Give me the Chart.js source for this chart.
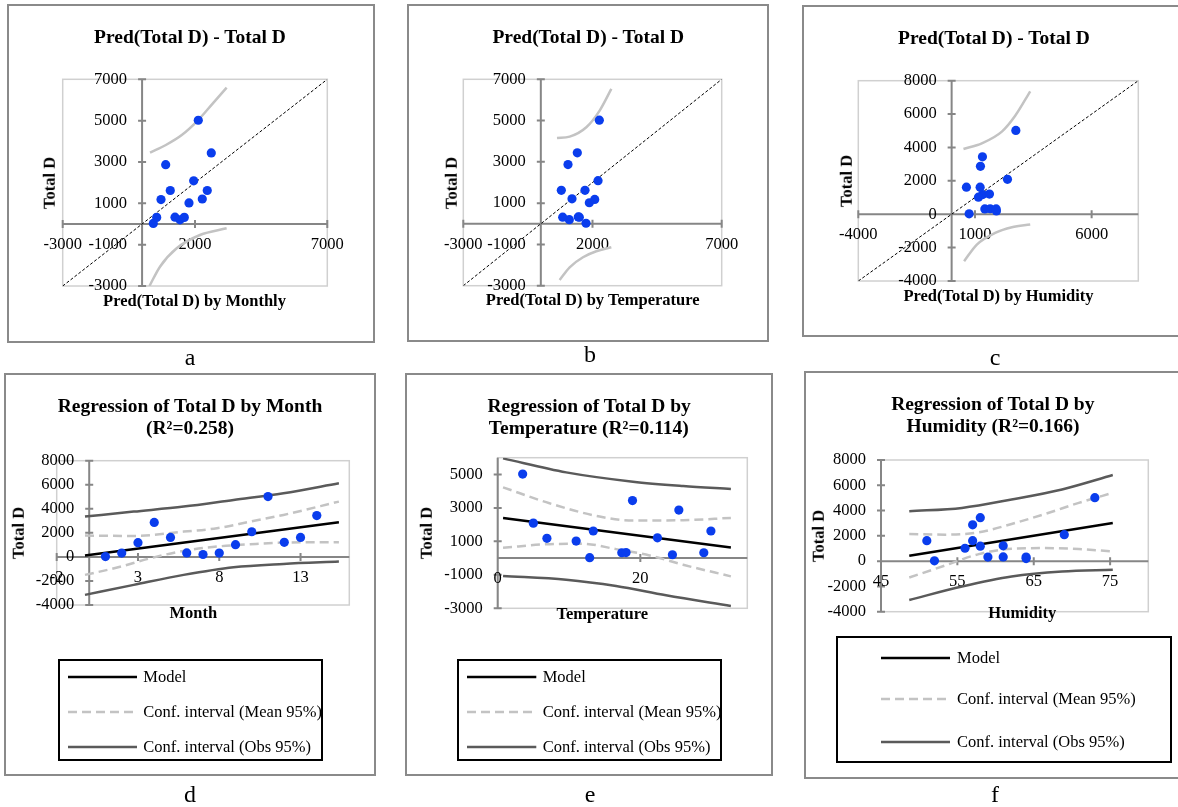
<!DOCTYPE html>
<html>
<head>
<meta charset="utf-8">
<script src="https://cdn.jsdelivr.net/npm/chart.js@4.4.1/dist/chart.umd.min.js"></script>
<style>
  body { margin: 0; width: 1178px; height: 807px; overflow: hidden; position: relative; background: #fff; font-family: "Liberation Serif", serif; color: #000; }
  .box { position: absolute; border: 2px solid #8a8a8a; box-sizing: border-box; }
  .lg { position: absolute; border: 2.5px solid #000; box-sizing: border-box; }
  canvas { position: absolute; }
  .txt { position: absolute; transform: translate(-50%, -50%); white-space: nowrap; line-height: 1; }
  .title { font-weight: bold; font-size: 19.5px; }
  .axt { font-weight: bold; font-size: 16.5px; }
  .vert { transform: translate(-50%, -50%) rotate(-90deg); }
  .letter { font-size: 24px; }
  .lgt { position: absolute; transform: translateY(-50%); white-space: nowrap; font-size: 16.5px; line-height: 1; }
  svg { position: absolute; overflow: visible; }
</style>
</head>
<body>
<script>
// shared observations, month 1..14
const months = [1, 2, 3, 4, 5, 6, 7, 8, 9, 10, 11, 12, 13, 14];
const totalD = [25, 320, 1180, 2870, 1620, 330, 200, 320, 1020, 2090, 5020, 1210, 1620, 3440];
const temperature = [12.9, 17.4, 6.9, 25.4, 29.9, 18.0, 24.5, 28.9, 11.0, 5.0, 3.5, 22.4, 13.4, 18.9];
const humidity = [52, 59, 58, 57, 51, 61, 64, 64, 56, 69, 73, 61, 57, 58];

// predicted Total D from each model
const predByMonth = [424, 552, 715, 892, 1066, 1244, 1433, 1595, 1773, 1950, 2124, 2275, 2464, 2615];
const predByTemp = [1749, 1490, 2086, 1052, 793, 1450, 1103, 847, 1877, 2214, 2264, 1207, 1710, 1412];
const predByHum = [750, 1423, 1330, 1235, 634, 1651, 1920, 1908, 1149, 2393, 2752, 1621, 1222, 1321];

// prediction bands on the Pred - Total D plots
const bandAUp = [[300, 3450], [900, 3820], [1500, 4300], [2100, 5000], [2650, 5800], [3196, 6600]];
const bandALo = [[278, -3000], [677, -2065], [1307, -1177], [2189, -532], [3196, -210]];
const bandBUp = [[626, 4160], [1116, 4225], [1761, 4677], [2277, 5485], [2729, 6535]];
const bandBLo = [[729, -2722], [1116, -2108], [1632, -1623], [2148, -1333], [2729, -1139]];
const bandCUp = [[507, 3912], [1293, 4250], [2152, 4950], [2724, 5900], [3368, 7365]];
const bandCLo = [[535, -2814], [1080, -1816], [1867, -1118], [2582, -778], [3368, -619]];
const diagAB = [[-3000, -3000], [7000, 7000]];
const diagC = [[-4000, -4000], [8000, 8000]];

// regression lines and confidence intervals
const monthModel = [[-0.26, 110], [15.36, 2880]];
const monthObsUp = [[-0.26, 3352], [2.74, 3767], [5.81, 4183], [8.88, 4737], [11.95, 5291], [15.36, 6122]];
const monthMeanUp = [[-0.26, 1773], [2.74, 1745], [5.81, 2105], [7.86, 2382], [9.9, 2936], [11.95, 3490], [15.36, 4598]];
const monthMeanLo = [[-0.26, -1496], [1.72, -886], [3.77, -111], [5.81, 499], [7.86, 859], [9.9, 1053], [11.95, 1191], [15.36, 1219]];
const monthObsLo = [[-0.26, -3158], [2.74, -2327], [5.81, -1496], [8.88, -859], [11.95, -582], [15.36, -388]];

const tempModel = [[0.75, 2403], [32.7, 636]];
const tempObsUp = [[0.75, 5958], [9.6, 5124], [18.97, 4568], [26, 4310], [32.7, 4131]];
const tempMeanUp = [[0.75, 4230], [7.26, 3277], [14.3, 2483], [18.97, 2244], [26, 2264], [32.7, 2403]];
const tempMeanLo = [[0.75, 616], [7.26, 834], [11.9, 854], [16.6, 536], [21.3, 159], [26, -397], [32.7, -1092]];
const tempObsLo = [[0.75, -1072], [9.6, -1291], [16.6, -1668], [23.6, -2224], [32.7, -2860]];

const humModel = [[48.7, 424], [75.35, 3020]];
const humObsUp = [[48.7, 3947], [55.6, 4212], [62.1, 4874], [68.7, 5669], [75.35, 6808]];
const humMeanUp = [[48.7, 2146], [53.4, 2093], [57.8, 2278], [62.1, 2940], [66.5, 3735], [70.9, 4609], [75.35, 5404]];
const humMeanLo = [[48.7, -1298], [53.4, -344], [57.8, 556], [62.1, 980], [66.5, 1033], [70.9, 954], [75.35, 768]];
const humObsLo = [[48.7, -3073], [55.6, -2013], [62.1, -1219], [68.7, -821], [75.35, -689]];

// tick labels
const ticksAB = [-3000, -1000, 1000, 3000, 5000, 7000];
const ticksABx = [-3000, 2000, 7000];
const ticksCx = [-4000, 1000, 6000];
const ticks8000 = [-4000, -2000, 0, 2000, 4000, 6000, 8000];
const ticksMonth = [-2, 3, 8, 13];
const ticksTempY = [-3000, -1000, 1000, 3000, 5000];
const ticksTemp = [0, 20];
const ticksHum = [45, 55, 65, 75];

const BLUE = '#0a3ded';
const LIGHT = '#c3c3c3';
const DARK = '#5a5a5a';

// Excel-like axes crossing inside the plot area
const excelAxes = {
  id: 'excelAxes',
  beforeDatasetsDraw(chart, args, o) {
    const { ctx, chartArea: a, scales: { x, y } } = chart;
    ctx.save();
    ctx.strokeStyle = '#d0d0d0';
    ctx.lineWidth = 1.5;
    ctx.strokeRect(a.left, a.top, a.right - a.left, a.bottom - a.top);
    const ax = x.getPixelForValue(o.yAxisAt);
    const ay = y.getPixelForValue(0);
    ctx.strokeStyle = '#868686';
    ctx.lineWidth = 2;
    ctx.beginPath();
    ctx.moveTo(a.left, ay); ctx.lineTo(a.right, ay);
    ctx.moveTo(ax, a.top); ctx.lineTo(ax, a.bottom);
    o.xTicks.forEach(v => { const p = x.getPixelForValue(v); ctx.moveTo(p, ay - 4); ctx.lineTo(p, ay + 4); });
    o.yTicks.forEach(v => { const p = y.getPixelForValue(v); ctx.moveTo(ax - 4, p); ctx.lineTo(ax + 4, p); });
    ctx.stroke();
    ctx.fillStyle = '#000';
    ctx.font = '16.5px "Liberation Serif"';
    ctx.textBaseline = 'middle';
    ctx.textAlign = 'center';
    o.xTicks.forEach(v => ctx.fillText(String(v), x.getPixelForValue(v), ay + 20.5));
    ctx.textAlign = 'right';
    o.yTicks.forEach(v => ctx.fillText(String(v), ax - 15, y.getPixelForValue(v)));
    ctx.restore();
  }
};

const dots = xs => ({
  data: xs.map((x, i) => ({ x, y: totalD[i] })),
  pointRadius: 4.6, pointBackgroundColor: BLUE, pointBorderWidth: 0, showLine: false
});
const curve = (arr, color, width, dash) => ({
  data: arr.map(([x, y]) => ({ x, y })),
  showLine: true, pointRadius: 0, borderColor: color, borderWidth: width,
  borderDash: dash || [], cubicInterpolationMode: 'monotone', fill: false
});

function makeChart(canvasBox, plot, datasets, xr, yr, axes) {
  const [cx, cy, cw, ch] = canvasBox;
  const [l, t, r, b] = plot;
  const cv = document.createElement('canvas');
  cv.width = cw; cv.height = ch;
  cv.style.left = cx + 'px'; cv.style.top = cy + 'px';
  cv.style.width = cw + 'px'; cv.style.height = ch + 'px';
  document.body.appendChild(cv);
  new Chart(cv.getContext('2d'), {
    type: 'scatter',
    data: { datasets },
    options: {
      responsive: false, animation: false, devicePixelRatio: 1,
      layout: { padding: { left: l - cx, top: t - cy, right: cx + cw - r, bottom: cy + ch - b } },
      plugins: { legend: { display: false }, tooltip: { enabled: false }, excelAxes: axes },
      scales: {
        x: { type: 'linear', display: false, min: xr[0], max: xr[1] },
        y: { type: 'linear', display: false, min: yr[0], max: yr[1] }
      }
    },
    plugins: [excelAxes]
  });
}

function el(cls, text, x, y, size) {
  const d = document.createElement('div');
  d.className = cls;
  d.textContent = text;
  d.style.left = x + 'px'; d.style.top = y + 'px';
  if (size) { d.style.width = size[0] + 'px'; d.style.height = size[1] + 'px'; }
  document.body.appendChild(d);
  return d;
}

function legend(box, lineX, textX, rows) {
  el('lg', '', box[0], box[1], [box[2], box[3]]);
  const styles = [['#000', ''], [LIGHT, '9 5'], [DARK, '']];
  const names = ['Model', 'Conf. interval (Mean 95%)', 'Conf. interval (Obs 95%)'];
  rows.forEach((ry, i) => {
    const svg = document.createElementNS('http://www.w3.org/2000/svg', 'svg');
    svg.setAttribute('width', lineX[1] - lineX[0]); svg.setAttribute('height', 6);
    svg.style.left = lineX[0] + 'px'; svg.style.top = (ry - 3) + 'px';
    svg.innerHTML = `<line x1="0" y1="3" x2="${lineX[1] - lineX[0]}" y2="3" stroke="${styles[i][0]}" stroke-width="2.5" stroke-dasharray="${styles[i][1]}"/>`;
    document.body.appendChild(svg);
    el('lgt', names[i], textX, ry);
  });
}

// panel frames
[[7, 4, 368, 339], [407, 4, 362, 338], [802, 5, 390, 332],
 [4, 373, 372, 403], [405, 373, 368, 403], [804, 371, 390, 408]].forEach(b => el('box', '', b[0], b[1], [b[2], b[3]]));

// a
makeChart([0, 0, 395, 360], [62.7, 79.3, 327.3, 286], [
  dots(predByMonth),
  curve(diagAB, '#000', 1, [3, 2]),
  curve(bandAUp, LIGHT, 2.5), curve(bandALo, LIGHT, 2.5)
], [-3000, 7000], [-3000, 7000], { xTicks: ticksABx, yTicks: ticksAB, yAxisAt: 0 });

// b
makeChart([395, 0, 395, 360], [463.3, 79.3, 721.7, 285.7], [
  dots(predByTemp),
  curve(diagAB, '#000', 1, [3, 2]),
  curve(bandBUp, LIGHT, 2.5), curve(bandBLo, LIGHT, 2.5)
], [-3000, 7000], [-3000, 7000], { xTicks: ticksABx, yTicks: ticksAB, yAxisAt: 0 });

// c
makeChart([790, 0, 388, 360], [858.3, 80.7, 1138.3, 281], [
  dots(predByHum),
  curve(diagC, '#000', 1, [3, 2]),
  curve(bandCUp, LIGHT, 2.5), curve(bandCLo, LIGHT, 2.5)
], [-4000, 8000], [-4000, 8000], { xTicks: ticksCx, yTicks: ticks8000, yAxisAt: 0 });

// d
makeChart([0, 365, 395, 442], [56.7, 460.7, 349.3, 605], [
  dots(months),
  curve(monthModel, '#000', 2.5),
  curve(monthMeanUp, LIGHT, 2.5, [9, 5]), curve(monthMeanLo, LIGHT, 2.5, [9, 5]),
  curve(monthObsUp, DARK, 2.5), curve(monthObsLo, DARK, 2.5)
], [-2, 16], [-4000, 8000], { xTicks: ticksMonth, yTicks: ticks8000, yAxisAt: 0 });

// e
makeChart([395, 365, 395, 442], [497.7, 457.7, 747.3, 608.3], [
  dots(temperature),
  curve(tempModel, '#000', 2.5),
  curve(tempMeanUp, LIGHT, 2.5, [9, 5]), curve(tempMeanLo, LIGHT, 2.5, [9, 5]),
  curve(tempObsUp, DARK, 2.5), curve(tempObsLo, DARK, 2.5)
], [0, 35], [-3000, 6000], { xTicks: ticksTemp, yTicks: ticksTempY, yAxisAt: 0 });

// f
makeChart([790, 365, 388, 442], [881, 460, 1148.3, 611.7], [
  dots(humidity),
  curve(humModel, '#000', 2.5),
  curve(humMeanUp, LIGHT, 2.5, [9, 5]), curve(humMeanLo, LIGHT, 2.5, [9, 5]),
  curve(humObsUp, DARK, 2.5), curve(humObsLo, DARK, 2.5)
], [45, 80], [-4000, 8000], { xTicks: ticksHum, yTicks: ticks8000, yAxisAt: 45 });

// titles
el('txt title', 'Pred(Total D) - Total D', 190, 36.5);
el('txt title', 'Pred(Total D) - Total D', 588.3, 36.5);
el('txt title', 'Pred(Total D) - Total D', 994, 37.5);
el('txt title', 'Regression of Total D by Month', 190, 406.3);
el('txt title', '(R²=0.258)', 190, 428.3);
el('txt title', 'Regression of Total D by', 589.2, 406.3);
el('txt title', 'Temperature (R²=0.114)', 588.8, 428);
el('txt title', 'Regression of Total D by', 992.8, 404);
el('txt title', 'Humidity (R²=0.166)', 993, 425.8);

// axis titles
el('txt axt vert', 'Total D', 50.3, 182.5);
el('txt axt', 'Pred(Total D) by Monthly', 194.5, 301);
el('txt axt vert', 'Total D', 451.7, 182.5);
el('txt axt', 'Pred(Total D) by Temperature', 592.7, 300);
el('txt axt vert', 'Total D', 846.7, 181);
el('txt axt', 'Pred(Total D) by Humidity', 998.5, 295.5);
el('txt axt vert', 'Total D', 19.3, 533.3);
el('txt axt', 'Month', 193.3, 613.3);
el('txt axt vert', 'Total D', 426.7, 533.3);
el('txt axt', 'Temperature', 602.3, 614);
el('txt axt vert', 'Total D', 819, 535.8);
el('txt axt', 'Humidity', 1022.3, 613.3);

// legends
legend([57.7, 659.3, 265, 101.4], [67.7, 136.7], 143.3, [677.3, 711.7, 746.7]);
legend([456.7, 659.3, 265.6, 101.4], [466.7, 536], 542.7, [677.3, 711.7, 746.7]);
legend([836, 635.7, 335.7, 127.6], [881, 950], 957, [657.7, 699.3, 741.7]);

// panel letters
el('txt letter', 'a', 190, 357);
el('txt letter', 'b', 590, 354);
el('txt letter', 'c', 995, 357);
el('txt letter', 'd', 190, 794);
el('txt letter', 'e', 590, 794);
el('txt letter', 'f', 995, 794);
</script>
</body>
</html>
